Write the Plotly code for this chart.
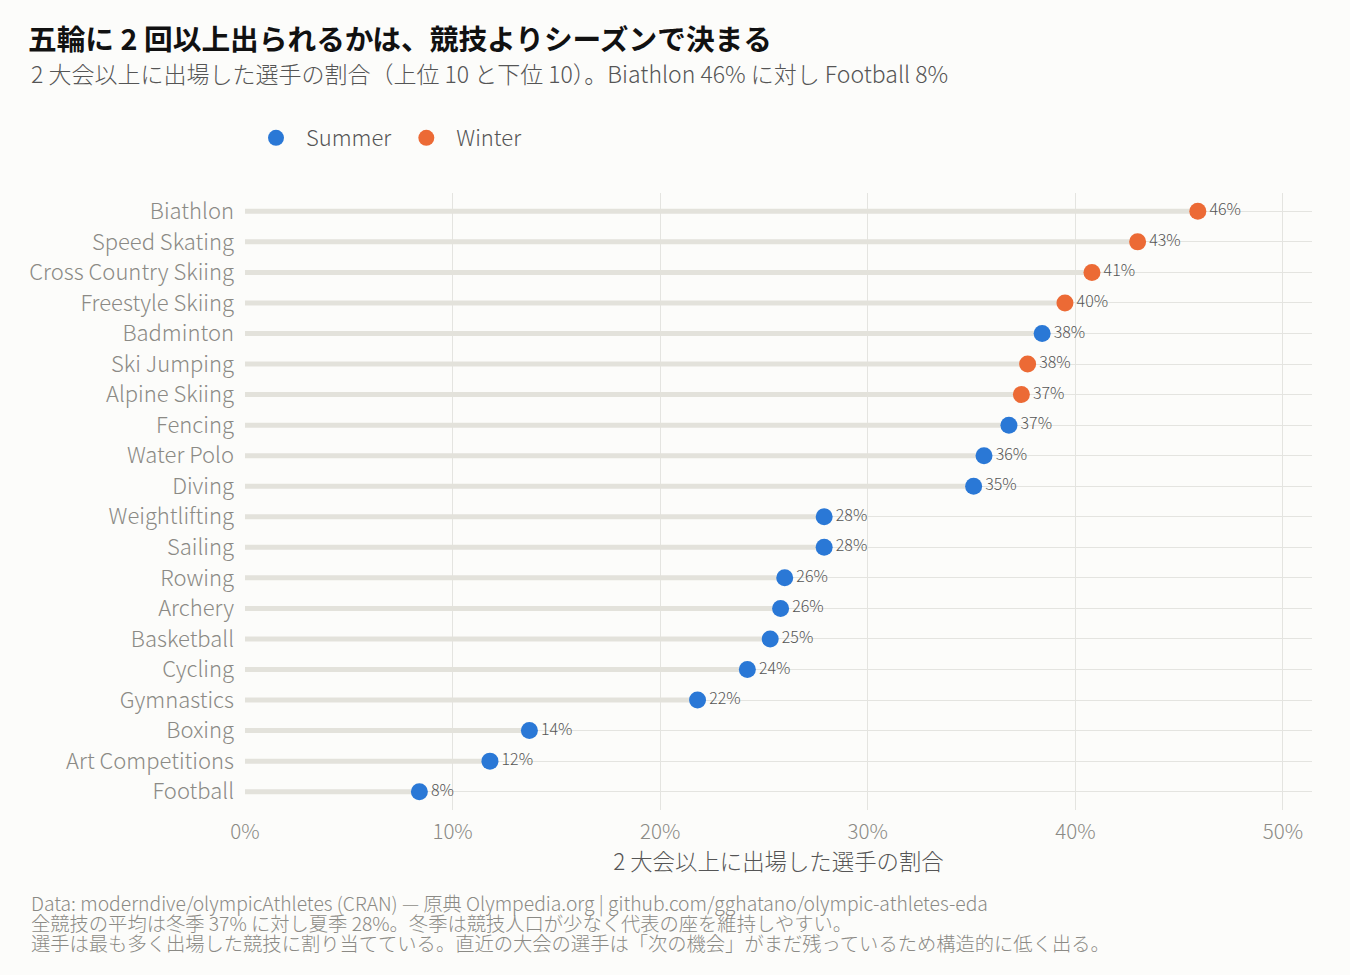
import plotly.graph_objects as go

# データ（上位10と下位10）
sports = [
    "Biathlon", "Speed Skating", "Cross Country Skiing", "Freestyle Skiing",
    "Badminton", "Ski Jumping", "Alpine Skiing", "Fencing", "Water Polo",
    "Diving", "Weightlifting", "Sailing", "Rowing", "Archery", "Basketball",
    "Cycling", "Gymnastics", "Boxing", "Art Competitions", "Football",
]
share = [
    0.459, 0.430, 0.408, 0.395, 0.384, 0.377, 0.374, 0.368, 0.356, 0.351,
    0.279, 0.279, 0.260, 0.258, 0.253, 0.242, 0.218, 0.137, 0.118, 0.084,
]
season = [
    "Winter", "Winter", "Winter", "Winter", "Summer", "Winter", "Winter",
    "Summer", "Summer", "Summer", "Summer", "Summer", "Summer", "Summer",
    "Summer", "Summer", "Summer", "Summer", "Summer", "Summer",
]
footer_lines = [
    "Data: moderndive/olympicAthletes (CRAN) — 原典 Olympedia.org | github.com/gghatano/olympic-athletes-eda",
    "全競技の平均は冬季 37% に対し夏季 28%。冬季は競技人口が少なく代表の座を維持しやすい。",
    "選手は最も多く出場した競技に割り当てている。直近の大会の選手は「次の機会」がまだ残っているため構造的に低く出る。",
]

colors = {"Summer": "#2a78d6", "Winter": "#ec6a35"}
FONT = "Noto Sans CJK JP"
GRAY = "#8b8a85"

fig = go.Figure()

# 棒（ロリポップの軸）
seg_x, seg_y = [], []
for s, v in zip(sports, share):
    seg_x += [0, v, None]
    seg_y += [s, s, None]
fig.add_trace(go.Scatter(
    x=seg_x, y=seg_y, mode="lines",
    line=dict(color="#e3e2db", width=5),
    showlegend=False, hoverinfo="skip",
))

# 点
for name in ["Summer", "Winter"]:
    xs = [v for v, k in zip(share, season) if k == name]
    ys = [s for s, k in zip(sports, season) if k == name]
    fig.add_trace(go.Scatter(
        x=xs, y=ys, mode="markers+text", name=name,
        marker=dict(color=colors[name], size=17),
        text=[f"{round(v * 100):.0f}%" for v in xs],
        textposition="middle right",
        textfont=dict(size=16, color="#555555", family=FONT, weight=300),
        cliponaxis=False,
    ))

# サブタイトルと脚注（1行ずつ）
annos = [dict(
    text="2 大会以上に出場した選手の割合（上位 10 と下位 10）。Biathlon 46% に対し Football 8%",
    xref="paper", yref="paper", x=(29 - 245) / 1067, xanchor="left",
    y=(810 - 73) / 617, yanchor="middle", showarrow=False,
    font=dict(size=23, color="#555555", weight=300),
)]
for i, line in enumerate(footer_lines):
    annos.append(dict(
        text=line, xref="paper", yref="paper",
        x=(29 - 245) / 1067, xanchor="left",
        y=(810 - (903 + 20 * i)) / 617, yanchor="middle",
        showarrow=False, font=dict(size=19.3, color=GRAY, weight=300),
    ))

fig.update_layout(
    width=1350, height=975,
    paper_bgcolor="#fcfcfa", plot_bgcolor="#fcfcfa",
    font=dict(family=FONT, color="#555555", weight=300),
    margin=dict(l=245, r=38, t=193, b=165),
    title=dict(
        text="<b>五輪に 2 回以上出られるかは、競技よりシーズンで決まる</b>",
        x=28 / 1350, xanchor="left", xref="container",
        y=1 - 40 / 975, yanchor="middle", yref="container",
        font=dict(size=28.7, color="#111111", family=FONT, weight=700),
    ),
    legend=dict(
        orientation="h", xref="container", yref="container",
        x=246 / 1350, xanchor="left", y=1 - 138 / 975, yanchor="middle",
        font=dict(size=22, color="#555555", weight=300),
        bgcolor="rgba(0,0,0,0)", itemwidth=50,
    ),
    xaxis=dict(
        range=[0, 0.514], tickformat=".0%", dtick=0.1,
        showgrid=True, gridcolor="#e4e4e0", gridwidth=1,
        zeroline=False, showline=False, ticklabelstandoff=7,
        tickfont=dict(size=20.5, color=GRAY, weight=300),
        title=dict(text="2 大会以上に出場した選手の割合",
                   font=dict(size=22.4, color="#555555", weight=300), standoff=0),
    ),
    yaxis=dict(
        categoryorder="array", categoryarray=sports[::-1],
        range=[-0.6, len(sports) - 0.4],
        showgrid=True, gridcolor="#e4e4e0", gridwidth=1,
        zeroline=False, showline=False, ticklabelstandoff=10,
        tickfont=dict(size=22, color=GRAY, weight=300),
    ),
    annotations=annos,
)

fig.write_html("out.html", config={"displayModeBar": False},
               post_script="document.body.style.margin='0';")
